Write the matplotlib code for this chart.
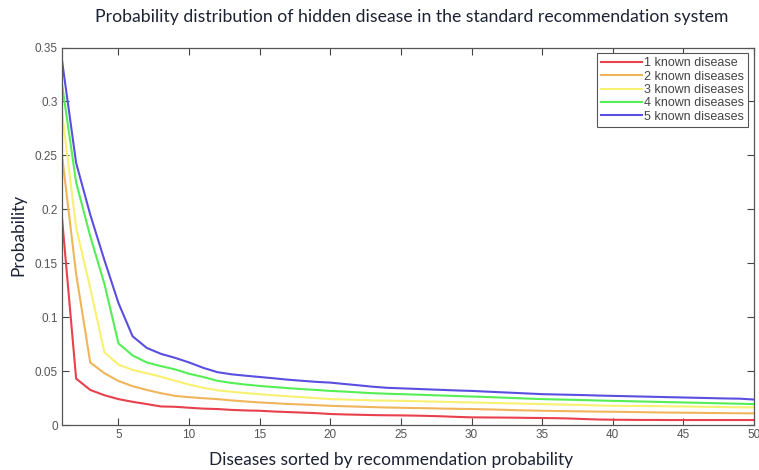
import matplotlib
matplotlib.use('Agg')
import matplotlib.pyplot as plt

# Ranked diseases (1..50)
ranks = list(range(1, 51))

known1 = [0.192, 0.043, 0.0325, 0.0276, 0.024, 0.0215, 0.0194, 0.0172, 0.0169, 0.016,
          0.0152, 0.0148, 0.014, 0.0135, 0.0132, 0.0125, 0.012, 0.0115, 0.011, 0.0102,
          0.0098, 0.0095, 0.0092, 0.009, 0.0089, 0.0087, 0.0084, 0.008, 0.0075, 0.0071,
          0.007, 0.0069, 0.0068, 0.0066, 0.0065, 0.0063, 0.006, 0.0055, 0.0051, 0.0049,
          0.0048, 0.0047, 0.0047, 0.0046, 0.0046, 0.0046, 0.0046, 0.0046, 0.0046, 0.0046]
known2 = [0.25, 0.14, 0.058, 0.048, 0.0408, 0.036, 0.0325, 0.0295, 0.027, 0.0258,
          0.0248, 0.024, 0.0228, 0.0218, 0.0209, 0.0202, 0.0195, 0.019, 0.0184, 0.0178,
          0.0174, 0.017, 0.0166, 0.0162, 0.016, 0.0157, 0.0155, 0.0152, 0.015, 0.0148,
          0.0145, 0.0142, 0.0138, 0.0135, 0.0132, 0.013, 0.0128, 0.0126, 0.0124, 0.0123,
          0.0121, 0.0119, 0.0117, 0.0115, 0.0114, 0.0113, 0.0111, 0.011, 0.0109, 0.0108]
known3 = [0.29, 0.183, 0.127, 0.0675, 0.056, 0.051, 0.048, 0.0448, 0.041, 0.0375,
          0.0345, 0.0322, 0.0308, 0.0296, 0.0286, 0.0275, 0.0266, 0.0258, 0.0249, 0.024,
          0.0236, 0.0232, 0.0228, 0.0226, 0.0224, 0.0221, 0.0218, 0.0215, 0.0212, 0.0209,
          0.0206, 0.0203, 0.02, 0.0197, 0.0194, 0.0191, 0.0188, 0.0185, 0.0181, 0.0178,
          0.0177, 0.0176, 0.0175, 0.0173, 0.0172, 0.017, 0.0168, 0.0166, 0.0164, 0.0163]
known4 = [0.316, 0.225, 0.175, 0.131, 0.0756, 0.0645, 0.058, 0.0546, 0.0516, 0.0475,
          0.0445, 0.041, 0.039, 0.0375, 0.0362, 0.0352, 0.0342, 0.0333, 0.0325, 0.0316,
          0.031, 0.0302, 0.0295, 0.029, 0.0286, 0.0282, 0.0277, 0.0273, 0.0268, 0.0264,
          0.026, 0.0255, 0.025, 0.0245, 0.024, 0.0237, 0.0234, 0.0231, 0.0227, 0.0224,
          0.0221, 0.0218, 0.0215, 0.0212, 0.0209, 0.0206, 0.0203, 0.02, 0.0197, 0.0194]
known5 = [0.338, 0.243, 0.195, 0.153, 0.113, 0.0822, 0.0715, 0.066, 0.0623, 0.058,
          0.053, 0.049, 0.047, 0.0457, 0.0445, 0.0433, 0.042, 0.041, 0.04, 0.0393,
          0.038, 0.0368, 0.0355, 0.0345, 0.034, 0.0335, 0.033, 0.0325, 0.032, 0.0316,
          0.031, 0.0304, 0.0298, 0.0292, 0.0286, 0.0283, 0.028, 0.0277, 0.0273, 0.027,
          0.0267, 0.0264, 0.0261, 0.0258, 0.0255, 0.0252, 0.0249, 0.0246, 0.0244, 0.0236]

labels = ['1 known disease', '2 known diseases', '3 known diseases',
          '4 known diseases', '5 known diseases']
colors = ['#e8404c', '#f0b55a', '#f8f070', '#55ee55', '#5a4fe0']
xticks = [5, 10, 15, 20, 25, 30, 35, 40, 45, 50]
yticks = [0, 0.05, 0.1, 0.15, 0.2, 0.25, 0.3, 0.35]

fig = plt.figure(figsize=(7.59, 4.70), dpi=100)
ax = fig.add_axes([62 / 759, 45 / 470, 692 / 759, 377.5 / 470])

for ys, lab, c in zip([known1, known2, known3, known4, known5], labels, colors):
    ax.plot(ranks, ys, color=c, lw=1.5, label=lab)

ax.set_xlim(1, 50)
ax.set_ylim(0, 0.35)
ax.set_xticks(xticks)
ax.set_yticks(yticks)
ax.set_yticklabels(['0', '0.05', '0.1', '0.15', '0.2', '0.25', '0.3', '0.35'])
ax.tick_params(direction='in', top=True, right=True, length=5, width=0.8,
               color='#444444', labelsize=8.5, labelcolor='#555555', pad=3)
for lbl in ax.get_xticklabels() + ax.get_yticklabels():
    lbl.set_family('Liberation Sans')
for s in ax.spines.values():
    s.set_color('#555555')
    s.set_linewidth(0.9)

leg = ax.legend(loc='upper right', handlelength=3.3, handletextpad=0.15,
                labelspacing=0.1, borderpad=0.35, fancybox=False, framealpha=1,
                borderaxespad=0.45, prop={'family': 'Liberation Sans', 'size': 9})
leg.get_frame().set_edgecolor('#555555')
leg.get_frame().set_linewidth(0.8)
for t in leg.get_texts():
    t.set_color('#444444')

fig.text(412 / 759, 1 - 17 / 470, 'Probability distribution of hidden disease in the standard recommendation system',
         ha='center', va='center', fontsize=12.7, family='Lato', color='#1c2233')
fig.text(391 / 759, 1 - 460 / 470, 'Diseases sorted by recommendation probability',
         ha='center', va='center', fontsize=12.5, family='Lato', color='#1c2233')
fig.text(18 / 759, 1 - 235 / 470, 'Probability', rotation=90,
         ha='center', va='center', fontsize=12.5, family='Lato', color='#1c2233')

fig.savefig('out.png', dpi=100)
